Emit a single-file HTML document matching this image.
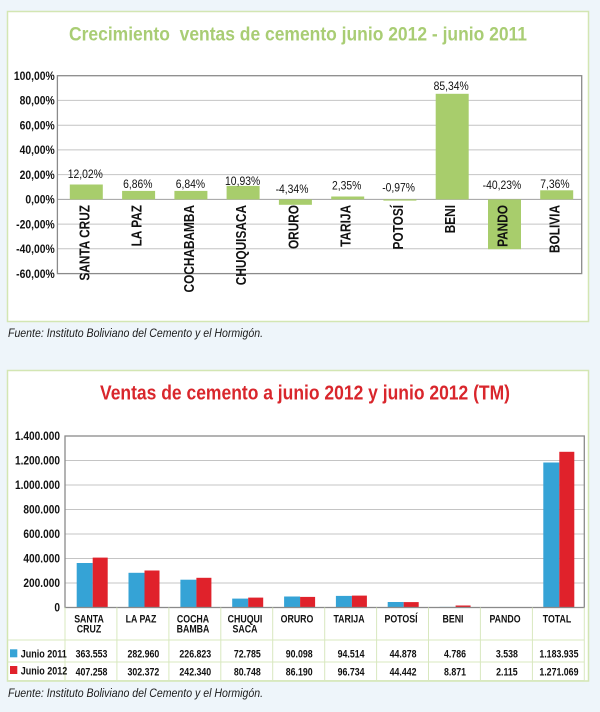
<!DOCTYPE html>
<html><head><meta charset="utf-8">
<style>
html,body{margin:0;padding:0;background:#eef5fa;}
svg{display:block;font-family:"Liberation Sans",sans-serif;}
</style></head>
<body>
<svg width="600" height="712" viewBox="0 0 600 712" xmlns="http://www.w3.org/2000/svg">
<rect x="0" y="0" width="600" height="712" fill="#eef5fa"/>

<!-- ===== TOP PANEL ===== -->
<rect x="7.5" y="11.5" width="581" height="310" fill="#ffffff" stroke="#d3e6b3" stroke-width="1.5"/>
<text x="298" y="40.5" text-anchor="middle" font-size="19.5" font-weight="bold" fill="#a9cd74" textLength="458" lengthAdjust="spacingAndGlyphs">Crecimiento&#160; ventas de cemento junio 2012 - junio 2011</text>

<!-- gridlines -->
<g stroke="#c4c4c4" stroke-width="1">
<line x1="57.4" x2="581.7" y1="100.4" y2="100.4"/>
<line x1="57.4" x2="581.7" y1="125.2" y2="125.2"/>
<line x1="57.4" x2="581.7" y1="149.9" y2="149.9"/>
<line x1="57.4" x2="581.7" y1="174.6" y2="174.6"/>
<line x1="57.4" x2="581.7" y1="224.1" y2="224.1"/>
<line x1="57.4" x2="581.7" y1="248.8" y2="248.8"/>
</g>
<line x1="57.4" x2="581.7" y1="199.4" y2="199.4" stroke="#a0a0a0" stroke-width="1"/>

<!-- bars -->
<g fill="#a8cd6c">
<rect x="69.8" y="184.5" width="33" height="14.9"/>
<rect x="122.1" y="190.9" width="33" height="8.5"/>
<rect x="174.4" y="190.9" width="33" height="8.5"/>
<rect x="226.6" y="185.9" width="33" height="13.5"/>
<rect x="278.9" y="199.4" width="33" height="5.4"/>
<rect x="331.2" y="196.5" width="33" height="2.9"/>
<rect x="383.4" y="199.4" width="33" height="1.2"/>
<rect x="435.7" y="93.8" width="33" height="105.6"/>
<rect x="488.0" y="199.4" width="33" height="49.8"/>
<rect x="540.2" y="190.3" width="33" height="9.1"/>
</g>

<rect x="57.4" y="75.7" width="524.3" height="197.9" fill="none" stroke="#8a8a8a" stroke-width="1.3"/>

<!-- y tick labels -->
<g font-size="11.5" font-weight="bold" fill="#111" text-anchor="end">
<text transform="translate(54.7,79.9) scale(0.9,1)">100,00%</text>
<text transform="translate(54.7,104.6) scale(0.9,1)">80,00%</text>
<text transform="translate(54.7,129.4) scale(0.9,1)">60,00%</text>
<text transform="translate(54.7,154.1) scale(0.9,1)">40,00%</text>
<text transform="translate(54.7,178.8) scale(0.9,1)">20,00%</text>
<text transform="translate(54.7,203.6) scale(0.9,1)">0,00%</text>
<text transform="translate(54.7,228.3) scale(0.9,1)">-20,00%</text>
<text transform="translate(54.7,253.0) scale(0.9,1)">-40,00%</text>
<text transform="translate(54.7,277.8) scale(0.9,1)">-60,00%</text>
</g>

<!-- value labels -->
<g font-size="11.5" fill="#111" text-anchor="middle">
<text transform="translate(85.3,178) scale(0.9,1)">12,02%</text>
<text transform="translate(137.8,188) scale(0.9,1)">6,86%</text>
<text transform="translate(190.4,188) scale(0.9,1)">6,84%</text>
<text transform="translate(242.6,185) scale(0.9,1)">10,93%</text>
<text transform="translate(292,193) scale(0.9,1)">-4,34%</text>
<text transform="translate(346.7,189.5) scale(0.9,1)">2,35%</text>
<text transform="translate(398.6,191.5) scale(0.9,1)">-0,97%</text>
<text transform="translate(451.2,90) scale(0.9,1)">85,34%</text>
<text transform="translate(501.9,189) scale(0.9,1)">-40,23%</text>
<text transform="translate(554.9,188) scale(0.9,1)">7,36%</text>
</g>

<!-- rotated category labels -->
<g font-size="15" font-weight="bold" fill="#111" text-anchor="end">
<text transform="translate(89.3,205) rotate(-90) scale(0.79,1)">SANTA CRUZ</text>
<text transform="translate(141.6,205) rotate(-90) scale(0.79,1)">LA PAZ</text>
<text transform="translate(193.9,205) rotate(-90) scale(0.79,1)">COCHABAMBA</text>
<text transform="translate(246.1,205) rotate(-90) scale(0.79,1)">CHUQUISACA</text>
<text transform="translate(298.4,205) rotate(-90) scale(0.79,1)">ORURO</text>
<text transform="translate(350.7,205) rotate(-90) scale(0.79,1)">TARIJA</text>
<text transform="translate(402.9,205) rotate(-90) scale(0.79,1)">POTOSÍ</text>
<text transform="translate(455.2,205) rotate(-90) scale(0.79,1)">BENI</text>
<text transform="translate(507.5,205) rotate(-90) scale(0.79,1)">PANDO</text>
<text transform="translate(559.7,205) rotate(-90) scale(0.79,1)">BOLIVIA</text>
</g>

<text x="8" y="337" font-size="12" font-style="italic" fill="#1a1a1a" textLength="255" lengthAdjust="spacingAndGlyphs">Fuente: Instituto Boliviano del Cemento y el Hormigón.</text>

<!-- ===== BOTTOM PANEL ===== -->
<rect x="7.5" y="370.5" width="581" height="310.5" fill="#ffffff" stroke="#d3e6b3" stroke-width="1.5"/>
<text x="305" y="399.5" text-anchor="middle" font-size="20" font-weight="bold" fill="#d9262c" textLength="410" lengthAdjust="spacingAndGlyphs">Ventas de cemento a junio 2012 y junio 2012 (TM)</text>

<g stroke="#c4c4c4" stroke-width="1">
<line x1="65" x2="584.3" y1="460.5" y2="460.5"/>
<line x1="65" x2="584.3" y1="485" y2="485"/>
<line x1="65" x2="584.3" y1="509.5" y2="509.5"/>
<line x1="65" x2="584.3" y1="534" y2="534"/>
<line x1="65" x2="584.3" y1="558.5" y2="558.5"/>
<line x1="65" x2="584.3" y1="583" y2="583"/>
</g>

<!-- bars 2011 (blue) -->
<g fill="#35a3d6">
<rect x="76.7" y="563.0" width="16" height="44.5"/>
<rect x="128.5" y="572.8" width="16" height="34.7"/>
<rect x="180.4" y="579.7" width="16" height="27.8"/>
<rect x="232.2" y="598.6" width="16" height="8.9"/>
<rect x="284.1" y="596.5" width="16" height="11.0"/>
<rect x="335.9" y="595.9" width="16" height="11.6"/>
<rect x="387.7" y="602.0" width="16" height="5.5"/>
<rect x="439.6" y="606.9" width="16" height="0.6"/>
<rect x="491.4" y="607.1" width="16" height="0.4"/>
<rect x="543.3" y="462.5" width="16" height="145.0"/>
</g>
<!-- bars 2012 (red) -->
<g fill="#e0222b">
<rect x="92.7" y="557.6" width="15" height="49.9"/>
<rect x="144.5" y="570.5" width="15" height="37.0"/>
<rect x="196.4" y="577.8" width="15" height="29.7"/>
<rect x="248.2" y="597.6" width="15" height="9.9"/>
<rect x="300.1" y="596.9" width="15" height="10.6"/>
<rect x="351.9" y="595.6" width="15" height="11.9"/>
<rect x="403.7" y="602.1" width="15" height="5.4"/>
<rect x="455.6" y="605.5" width="15" height="2.0"/>
<rect x="507.4" y="607.2" width="15" height="0.3"/>
<rect x="559.3" y="451.8" width="15" height="155.7"/>
</g>

<rect x="65" y="436" width="519.3" height="171.5" fill="none" stroke="#8a8a8a" stroke-width="1.3"/>

<g font-size="11.5" font-weight="bold" fill="#111" text-anchor="end">
<text transform="translate(60,440.2) scale(0.88,1)">1.400.000</text>
<text transform="translate(60,464.7) scale(0.88,1)">1.200.000</text>
<text transform="translate(60,489.2) scale(0.88,1)">1.000.000</text>
<text transform="translate(60,513.7) scale(0.88,1)">800.000</text>
<text transform="translate(60,538.2) scale(0.88,1)">600.000</text>
<text transform="translate(60,562.7) scale(0.88,1)">400.000</text>
<text transform="translate(60,587.2) scale(0.88,1)">200.000</text>
<text transform="translate(60,611.7) scale(0.88,1)">0</text>
</g>

<!-- data table grid -->
<g stroke="#d8e8bf" stroke-width="1">
<line x1="7.5" x2="584.3" y1="640" y2="640"/>
<line x1="7.5" x2="584.3" y1="662" y2="662"/>
<line x1="7.5" x2="584.3" y1="680.5" y2="680.5"/>
<line x1="65" x2="65" y1="607.5" y2="681"/>
<line x1="116.9" x2="116.9" y1="607.5" y2="681"/>
<line x1="168.9" x2="168.9" y1="607.5" y2="681"/>
<line x1="220.8" x2="220.8" y1="607.5" y2="681"/>
<line x1="272.7" x2="272.7" y1="607.5" y2="681"/>
<line x1="324.7" x2="324.7" y1="607.5" y2="681"/>
<line x1="376.6" x2="376.6" y1="607.5" y2="681"/>
<line x1="428.5" x2="428.5" y1="607.5" y2="681"/>
<line x1="480.4" x2="480.4" y1="607.5" y2="681"/>
<line x1="532.4" x2="532.4" y1="607.5" y2="681"/>
<line x1="584.3" x2="584.3" y1="607.5" y2="681"/>
</g>

<!-- category labels -->
<g font-size="11" font-weight="bold" fill="#111" text-anchor="middle">
<text transform="translate(89,622.5) scale(0.8,1)">SANTA</text>
<text transform="translate(89,632.5) scale(0.8,1)">CRUZ</text>
<text transform="translate(141,622.5) scale(0.8,1)">LA PAZ</text>
<text transform="translate(193,622.5) scale(0.8,1)">COCHA</text>
<text transform="translate(193,632.5) scale(0.8,1)">BAMBA</text>
<text transform="translate(245,622.5) scale(0.8,1)">CHUQUI</text>
<text transform="translate(245,632.5) scale(0.8,1)">SACA</text>
<text transform="translate(297,622.5) scale(0.8,1)">ORURO</text>
<text transform="translate(349,622.5) scale(0.8,1)">TARIJA</text>
<text transform="translate(401,622.5) scale(0.8,1)">POTOSÍ</text>
<text transform="translate(453,622.5) scale(0.8,1)">BENI</text>
<text transform="translate(505,622.5) scale(0.8,1)">PANDO</text>
<text transform="translate(557,622.5) scale(0.8,1)">TOTAL</text>
</g>

<!-- legend -->
<rect x="10" y="649.3" width="7.3" height="8" fill="#35a3d6"/>
<rect x="10" y="666" width="7.3" height="8" fill="#e0222b"/>
<g font-size="11" font-weight="bold" fill="#111">
<text transform="translate(20.7,657.3) scale(0.82,1)">Junio 2011</text>
<text transform="translate(20.7,674.3) scale(0.82,1)">Junio 2012</text>
</g>

<!-- table values -->
<g font-size="11" font-weight="bold" fill="#111" text-anchor="middle">
<text transform="translate(91.5,657.5) scale(0.8,1)">363.553</text>
<text transform="translate(143.4,657.5) scale(0.8,1)">282.960</text>
<text transform="translate(195.3,657.5) scale(0.8,1)">226.823</text>
<text transform="translate(247.3,657.5) scale(0.8,1)">72.785</text>
<text transform="translate(299.2,657.5) scale(0.8,1)">90.098</text>
<text transform="translate(351.1,657.5) scale(0.8,1)">94.514</text>
<text transform="translate(403.1,657.5) scale(0.8,1)">44.878</text>
<text transform="translate(455,657.5) scale(0.8,1)">4.786</text>
<text transform="translate(506.9,657.5) scale(0.8,1)">3.538</text>
<text transform="translate(558.9,657.5) scale(0.8,1)">1.183.935</text>

<text transform="translate(91.5,675.5) scale(0.8,1)">407.258</text>
<text transform="translate(143.4,675.5) scale(0.8,1)">302.372</text>
<text transform="translate(195.3,675.5) scale(0.8,1)">242.340</text>
<text transform="translate(247.3,675.5) scale(0.8,1)">80.748</text>
<text transform="translate(299.2,675.5) scale(0.8,1)">86.190</text>
<text transform="translate(351.1,675.5) scale(0.8,1)">96.734</text>
<text transform="translate(403.1,675.5) scale(0.8,1)">44.442</text>
<text transform="translate(455,675.5) scale(0.8,1)">8.871</text>
<text transform="translate(506.9,675.5) scale(0.8,1)">2.115</text>
<text transform="translate(558.9,675.5) scale(0.8,1)">1.271.069</text>
</g>

<text x="8" y="697" font-size="12" font-style="italic" fill="#1a1a1a" textLength="255" lengthAdjust="spacingAndGlyphs">Fuente: Instituto Boliviano del Cemento y el Hormigón.</text>
</svg>
</body></html>
